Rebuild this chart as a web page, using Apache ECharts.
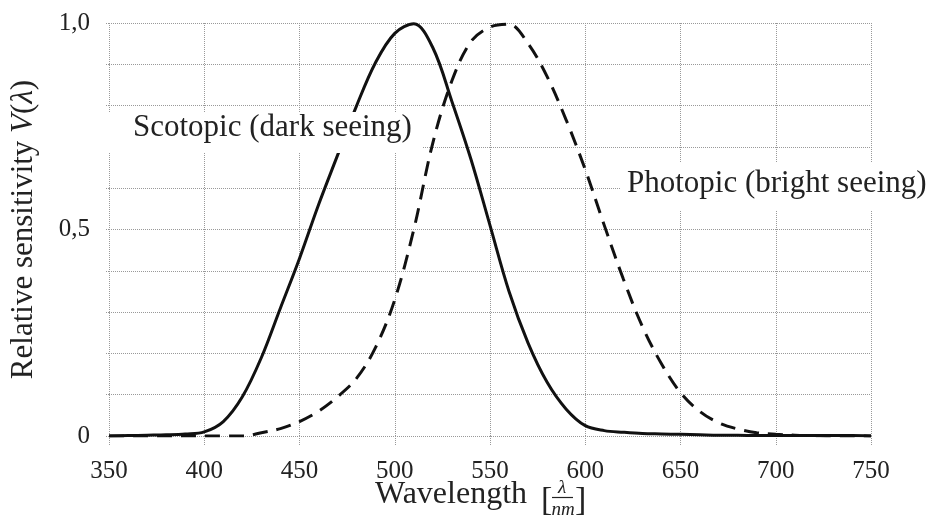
<!DOCTYPE html>
<html>
<head>
<meta charset="utf-8">
<script src="https://cdn.jsdelivr.net/npm/echarts@6/dist/echarts.min.js"></script>
<style>
  html, body { margin: 0; padding: 0; background: #fff; }
  #main { width: 939px; height: 526px; }
</style>
</head>
<body>
<div id="main"></div>
<script>
// wavelengths in nm
const wavelengths = [350,360,370,380,390,400,410,420,430,440,450,460,470,480,490,500,510,520,530,540,550,
  560,570,580,590,600,610,620,630,640,650,660,670,680,690,700,710,720,730,740,750];
// scotopic (dark seeing), solid line
const scotopic = [0,0.001,0.002,0.003,0.005,0.01,0.035,0.095,0.19,0.31,0.43,0.56,0.68,0.80,0.905,0.975,0.998,0.94,0.81,0.67,0.51,
  0.35,0.225,0.13,0.065,0.025,0.013,0.009,0.006,0.005,0.004,0.003,0.002,0.002,0.001,0.001,0.001,0.001,0.001,0.001,0];
// photopic (bright seeing), dashed line
const photopic = [0,0,0,0,0,0,0,0,0.008,0.018,0.035,0.06,0.095,0.14,0.215,0.33,0.50,0.71,0.86,0.955,0.99,
  0.997,0.95,0.87,0.765,0.645,0.51,0.38,0.265,0.175,0.105,0.06,0.032,0.017,0.008,0.004,0.002,0.001,0,0,0];
const yLabels = {0: '0', 0.5: '0,5', 1: '1,0'};

const font = '"Liberation Serif", "DejaVu Serif", serif';
const ink = '#222';
const chart = echarts.init(document.getElementById('main'));

function pairs(vals) {
  return wavelengths.map((w, i) => [w, vals[i]]);
}

chart.setOption({
  animation: false,
  backgroundColor: '#fff',
  grid: { left: 107, right: 68, top: 23, bottom: 90 },
  xAxis: {
    type: 'value',
    min: 350, max: 750, interval: 50,
    axisLine: { show: false },
    axisTick: { show: true, length: 9, lineStyle: { color: '#999', type: 'dotted' } },
    splitLine: { show: true, lineStyle: { color: '#999', type: 'dotted', width: 1 } },
    axisLabel: { fontFamily: font, fontSize: 25, color: ink, margin: 23 }
  },
  yAxis: {
    type: 'value',
    min: 0, max: 1, interval: 0.1,
    axisLine: { show: false },
    axisTick: { show: true, length: 3, lineStyle: { color: '#999', type: 'dotted' } },
    splitLine: { show: true, lineStyle: { color: '#999', type: 'dotted', width: 1 } },
    axisLabel: {
      fontFamily: font, fontSize: 25, color: ink, margin: 19,
      formatter: v => {
        const k = Math.round(v * 10) / 10;
        return yLabels[k] !== undefined ? yLabels[k] : '';
      }
    },
    name: 'Relative sensitivity {i|V}({i|λ})',
    nameLocation: 'middle',
    nameGap: 70,
    nameTextStyle: {
      fontFamily: font, fontSize: 31, color: ink,
      rich: { i: { fontFamily: font, fontSize: 31, fontStyle: 'italic', color: ink } }
    }
  },
  series: [
    {
      name: 'Scotopic (dark seeing)',
      type: 'line',
      data: pairs(scotopic),
      smooth: 0.35,
      showSymbol: false,
      lineStyle: { color: '#111', width: 3 },
      z: 3
    },
    {
      name: 'Photopic (bright seeing)',
      type: 'line',
      data: pairs(photopic),
      smooth: 0.35,
      showSymbol: false,
      lineStyle: { color: '#111', width: 3, type: [15, 9] },
      z: 3
    }
  ],
  graphic: [
    // white boxes behind the curve labels
    { type: 'rect', z: 99, shape: { x: 106, y: 112, width: 317, height: 41 }, style: { fill: '#fff' } },
    { type: 'rect', z: 99, shape: { x: 620, y: 163, width: 319, height: 47 }, style: { fill: '#fff' } },
    {
      type: 'text', z: 100, x: 133, y: 128,
      style: { text: 'Scotopic (dark seeing)', font: '31px ' + font, fill: ink, verticalAlign: 'middle' }
    },
    {
      type: 'text', z: 100, x: 627, y: 184,
      style: { text: 'Photopic (bright seeing)', font: '31px ' + font, fill: ink, verticalAlign: 'middle' }
    },
    // x axis title with the fraction lambda / nm
    {
      type: 'text', z: 100, x: 375, y: 495,
      style: { text: 'Wavelength', font: '32px ' + font, fill: ink, verticalAlign: 'middle' }
    },
    { type: 'text', z: 100, x: 541, y: 501, style: { text: '[', font: '34px ' + font, fill: ink, verticalAlign: 'middle' } },
    { type: 'text', z: 100, x: 562, y: 488, style: { text: 'λ', font: 'italic 19px ' + font, fill: ink, align: 'center', verticalAlign: 'middle' } },
    { type: 'line', z: 100, shape: { x1: 552, y1: 497.5, x2: 573, y2: 497.5 }, style: { stroke: ink, lineWidth: 1.2 } },
    { type: 'text', z: 100, x: 563, y: 510, style: { text: 'nm', font: 'italic 19px ' + font, fill: ink, align: 'center', verticalAlign: 'middle' } },
    { type: 'text', z: 100, x: 575, y: 501, style: { text: ']', font: '34px ' + font, fill: ink, verticalAlign: 'middle' } }
  ]
});
</script>
</body>
</html>
